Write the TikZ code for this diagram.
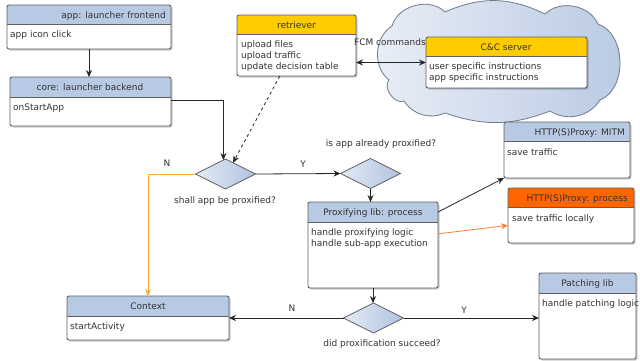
\documentclass[tikz,border=0pt]{standalone}
\usepackage{fontspec}
\setmainfont{DejaVu Sans}
\usetikzlibrary{shapes.geometric,arrows.meta,calc}
\definecolor{hblue}{HTML}{B8C9E4}
\definecolor{hyellow}{HTML}{FFCC00}
\definecolor{horange}{HTML}{FF6600}
\definecolor{framec}{HTML}{5F5F5F}
\definecolor{txt}{HTML}{333333}
\definecolor{cloudL}{HTML}{E9EEF6}
\definecolor{cloudR}{HTML}{B9CAE3}
\definecolor{cloudline}{HTML}{6E7B8B}
\definecolor{dlight}{HTML}{E3EAF4}
\definecolor{dblue}{HTML}{B1C3E0}
\definecolor{nline}{HTML}{FFA733}
\definecolor{parrow}{HTML}{FF7F2A}
\tikzset{
 every node/.style={font=\fontsize{9}{11}\selectfont, text=txt},
 framebox/.style={draw=framec, line width=0.9, rounded corners=2, inner sep=0, outer sep=0},
 sepline/.style={draw=framec, line width=0.9},
 shadowc/.style={fill=black, opacity=0.2},
 title/.style={inner sep=0},
 bodytxt/.style={inner sep=0, align=left, anchor=base west},
 dec/.style={diamond, aspect=2, inner sep=0, outer sep=0, minimum width=60, minimum height=30, draw=framec, line width=0.8, left color=dlight, right color=dblue},
 arr/.style={draw=black!85, line width=0.8, -{Stealth[length=7,width=6]}},
 lbl/.style={inner sep=0},
}
\newcommand\ubox[7]{%
  \fill[shadowc, rounded corners=2] (#2+1.5,#3+1.5) rectangle (#4+1.5,#5+1.5);
  \begin{scope}
    \clip[rounded corners=2] (#2,#3) rectangle (#4,#5);
    \fill[white] (#2,#3) rectangle (#4,#5);
    \fill[#7] (#2,#3) rectangle (#4,#6);
  \end{scope}
  \draw[sepline] (#2,#6) -- (#4,#6);
  \node[framebox, minimum width={#4-#2}, minimum height={#5-#3}] (#1) at ({(#2+#4)/2},{(#3+#5)/2}) {};
}
\begin{document}
\begin{tikzpicture}[x=1pt,y=-1pt]
\useasboundingbox[fill=white] (0,0) rectangle (640,360);
% cloud
\path[draw=cloudline, line width=0.8, left color=cloudL, right color=cloudR]
 (392,26) to[bend left=60] (445,12) to[bend left=25] (545,14) to[bend left=55] (598,24)
 to[bend left=70] (600,100) to[bend left=45] (550,111) to[bend left=20] (445,113)
 to[bend left=40] (404,101) to[bend left=80] (389,80) to[bend left=55] (392,26) -- cycle;
% boxes
\ubox{app}{7}{5}{171}{49}{24}{hblue}
\node[title, anchor=base east] (app-t) at (166,18) {app: launcher frontend};
\node[bodytxt] (app-b) at (10,37.3) {app icon click};
\ubox{core}{10}{77}{171}{126}{97}{hblue}
\node[title, anchor=base] (core-t) at (90,90.5) {core: launcher backend};
\node[bodytxt] (core-b) at (13,110.3) {onStartApp};
\ubox{ret}{237}{15}{356}{76}{34}{hyellow}
\node[title, anchor=base] (ret-t) at (296.5,28) {retriever};
\node[bodytxt] (ret-b) at (241,69.3) {upload files\\upload traffic\\update decision table};
\ubox{cc}{426}{37}{587}{88}{56}{hyellow}
\node[title, anchor=base] (cc-t) at (506,50) {C\&C server};
\node[bodytxt] (cc-b) at (429,80.3) {user specific instructions\\app specific instructions};
\ubox{prox}{308}{202}{438}{288}{222}{hblue}
\node[title, anchor=base] (prox-t) at (373,215.5) {Proxifying lib: process};
\node[bodytxt] (prox-b) at (311,246.3) {handle proxifying logic\\handle sub-app execution};
\ubox{mitm}{504}{122}{630}{178}{141}{hblue}
\node[title, anchor=base east] (mitm-t) at (625,135) {HTTP(S)Proxy: MITM};
\node[bodytxt] (mitm-b) at (507,155) {save traffic};
\ubox{proc}{508}{188}{634}{243}{207}{horange}
\node[title, anchor=base east] (proc-t) at (628,201) {HTTP(S)Proxy: process};
\node[bodytxt] (proc-b) at (512,221.3) {save traffic locally};
\ubox{ctx}{67}{296}{229}{340}{316}{hblue}
\node[title, anchor=base] (ctx-t) at (148,309.5) {Context};
\node[bodytxt] (ctx-b) at (70,329.3) {startActivity};
\ubox{patch}{539}{273}{636}{359}{293}{hblue}
\node[title, anchor=base] (patch-t) at (587.5,286.5) {Patching lib};
\node[bodytxt] (patch-b) at (542,306.3) {handle patching logic};
% decisions
\node[dec] (d1) at (225.5,174) {};
\node[dec] (d2) at (370.5,173.5) {};
\node[dec] (d3) at (373.5,318) {};
\node[lbl, anchor=base] (d1-l) at (225,203.4) {shall app be proxified?};
\node[lbl, anchor=base] (d2-l) at (381,146.4) {is app already proxified?};
\node[lbl, anchor=base] (d3-l) at (382,346.4) {did proxification succeed?};
% connectors
\draw[arr] (app.south) -- (app.south |- core.north);
\draw[arr] (core.east |- 0,100) -| ($(d1.north)!0.07!(d1.west)$);
\draw[arr, dashed] ($(ret.south west)!0.36!(ret.south east)$) -- ($(d1.north)!0.25!(d1.east)$);
\draw[draw=black!85, line width=0.8, {Stealth[length=7,width=6]}-{Stealth[length=7,width=6]}] (ret.east |- cc.west) -- (cc.west);
\node[lbl, anchor=base] (fcm) at (390,45.4) {FCM commands};
\draw[arr] (d1.east) -- (d2.west);
\node[lbl, anchor=base] (y1) at (303,167.4) {Y};
\draw[draw=nline, line width=0.8, -{Stealth[length=7,width=6]}] (d1.west) -| (ctx.north);
\node[lbl, anchor=base] (n1) at (167,166.4) {N};
\draw[arr] (d2.south) -- (d2.south |- prox.north);
\draw[arr] ($(prox.north east)!0.116!(prox.south east)$) -- (mitm.south west);
\draw[draw=parrow, line width=0.8, -{Stealth[length=7,width=6]}] ($(prox.north east)!0.37!(prox.south east)$) -- ($(proc.north west)!0.68!(proc.south west)$);
\draw[arr] (prox.south) -- (prox.south |- d3.north);
\draw[arr] (d3.west) -- (ctx.east |- d3.west);
\node[lbl, anchor=base] (n2) at (292,311.4) {N};
\draw[arr] (d3.east) -- (d3.east -| patch.west);
\node[lbl, anchor=base] (y2) at (464,313.4) {Y};
\end{tikzpicture}
\end{document}
